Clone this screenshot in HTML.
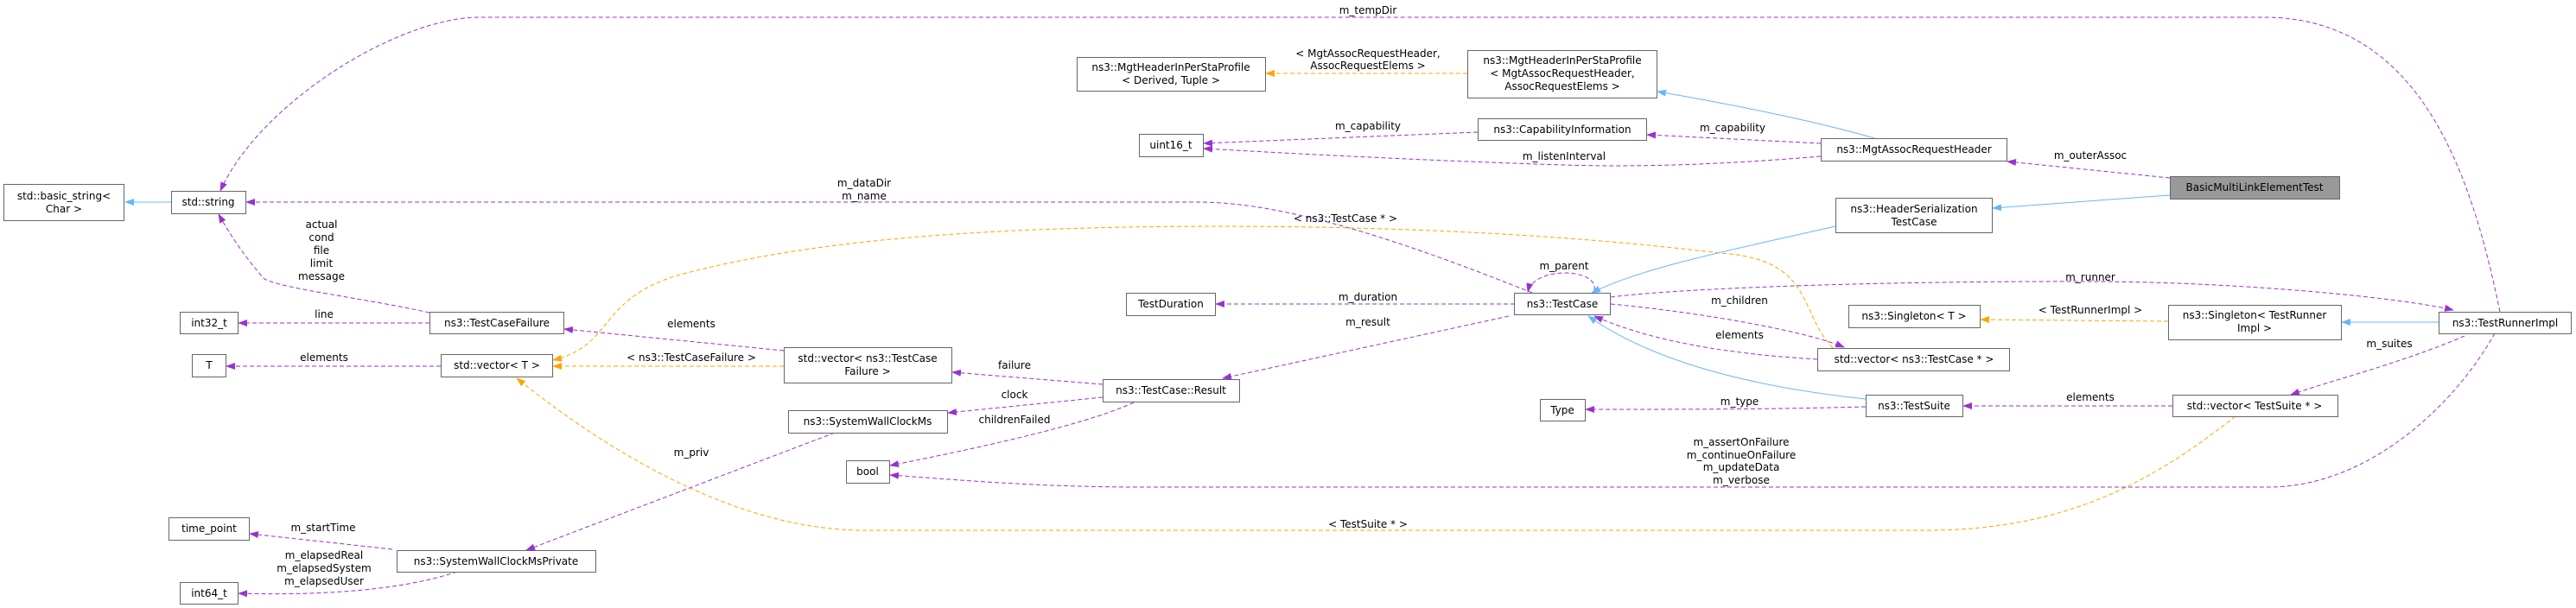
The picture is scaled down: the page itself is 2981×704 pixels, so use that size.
<!DOCTYPE html>
<html><head><meta charset="utf-8"><style>
html,body{margin:0;padding:0;background:#fff;}
svg{display:block;}
text{font-family:"DejaVu Sans","Liberation Sans",sans-serif;font-size:12px;fill:#000;text-anchor:middle;}
.b{fill:#fff;stroke:#666;stroke-width:1;}
.p{fill:none;stroke:#9a32cd;stroke-width:1;stroke-dasharray:5,3;}
.o{fill:none;stroke:#ffa500;stroke-width:1;stroke-dasharray:5,3;}
.u{fill:none;stroke:#63b8ff;stroke-width:1;}
</style></head><body>
<svg width="2981" height="704" viewBox="0 0 2981 704" xmlns="http://www.w3.org/2000/svg">
<defs>
<marker id="mp" markerWidth="11" markerHeight="8" refX="10" refY="4" orient="auto" markerUnits="userSpaceOnUse"><path d="M0,0 L11,4 L0,8 Z" fill="#9a32cd"/></marker>
<marker id="mo" markerWidth="11" markerHeight="8" refX="10" refY="4" orient="auto" markerUnits="userSpaceOnUse"><path d="M0,0 L11,4 L0,8 Z" fill="#ffa500"/></marker>
<marker id="mu" markerWidth="11" markerHeight="8" refX="10" refY="4" orient="auto" markerUnits="userSpaceOnUse"><path d="M0,0 L11,4 L0,8 Z" fill="#63b8ff"/></marker>
</defs>

<!-- edges -->
<path class="p" marker-end="url(#mp)" d="M2893,361 C2860,200 2800,20 2620,20 L555,20 C460,20 300,120 255,221"/>
<text x="1583" y="16">m_tempDir</text>
<path class="p" marker-end="url(#mp)" d="M1773,339 C1650,290 1500,235 1390,234 L285,234"/>
<text x="1000" y="216">m_dataDir</text><text x="1000" y="231">m_name</text>
<path class="p" marker-end="url(#mp)" d="M497,362 C420,345 330,335 306,323 C285,300 265,270 253,248"/>
<text x="372" y="264">actual</text><text x="372" y="279">cond</text><text x="372" y="294">file</text><text x="372" y="309">limit</text><text x="372" y="324">message</text>
<path class="p" marker-end="url(#mp)" d="M497,374 L276,374"/>
<text x="375" y="368">line</text>
<path class="p" marker-end="url(#mp)" d="M510,424 L262,424"/>
<text x="375" y="418">elements</text>
<path class="p" marker-end="url(#mp)" d="M907,406 L653,381"/>
<text x="800" y="379">elements</text>
<path class="o" marker-end="url(#mo)" d="M907,424 L640,424"/>
<text x="800" y="418">&lt; ns3::TestCaseFailure &gt;</text>
<path class="o" marker-end="url(#mo)" d="M2121,403 C2080,360 2100,300 1990,293 C1800,270 1600,262 1400,262 C1200,263 960,270 780,320 C690,350 710,400 640,417"/>
<text x="1557" y="257">&lt; ns3::TestCase * &gt;</text>
<path class="o" marker-end="url(#mo)" d="M2587,482 C2500,550 2400,614 2230,614 L1000,614 C850,614 700,520 598,438"/>
<text x="1583" y="611">&lt; TestSuite * &gt;</text>
<path class="p" marker-end="url(#mp)" d="M966,501 L609,637"/>
<text x="800" y="528">m_priv</text>
<path class="p" marker-end="url(#mp)" d="M454,636 L289,618"/>
<text x="374" y="615">m_startTime</text>
<path class="p" marker-end="url(#mp)" d="M529,662 C470,682 380,690 276,687"/>
<text x="375" y="647">m_elapsedReal</text><text x="375" y="662">m_elapsedSystem</text><text x="375" y="677">m_elapsedUser</text>
<path class="p" marker-end="url(#mp)" d="M1276,445 L1102,431"/>
<text x="1174" y="427">failure</text>
<path class="p" marker-end="url(#mp)" d="M1276,460 L1097,478"/>
<text x="1174" y="461">clock</text>
<path class="p" marker-end="url(#mp)" d="M1312,466 C1250,495 1100,525 1030,539"/>
<text x="1174" y="490">childrenFailed</text>
<path class="p" marker-end="url(#mp)" d="M2887,386 C2840,470 2740,564 2625,564 L1319,564 C1200,564 1100,555 1030,550"/>
<text x="2015" y="516">m_assertOnFailure</text><text x="2015" y="531">m_continueOnFailure</text><text x="2015" y="545">m_updateData</text><text x="2015" y="560">m_verbose</text>
<path class="p" marker-end="url(#mp)" d="M1753,352 L1407,352"/>
<text x="1583" y="348">m_duration</text>
<path class="p" marker-end="url(#mp)" d="M1746,366 L1415,438"/>
<text x="1583" y="377">m_result</text>
<path class="p" marker-end="url(#mp)" d="M1845,336 C1850,310 1775,308 1768,338"/>
<text x="1810" y="312">m_parent</text>
<path class="p" marker-end="url(#mp)" d="M1864,344 C1950,333 2200,325 2427,326 C2600,327 2780,345 2839,359"/>
<text x="2419" y="325">m_runner</text>
<path class="p" marker-end="url(#mp)" d="M1864,352 C1950,360 2080,380 2134,402"/>
<text x="2013" y="352">m_children</text>
<path class="p" marker-end="url(#mp)" d="M2103,416 C2000,410 1910,395 1845,366"/>
<text x="2013" y="392">elements</text>
<path class="u" marker-end="url(#mu)" d="M2159,462 C2000,445 1900,410 1838,366"/>
<path class="u" marker-end="url(#mu)" d="M2124,262 C2000,290 1900,310 1842,339"/>
<path class="u" marker-end="url(#mu)" d="M2511,226 L2306,241"/>
<path class="p" marker-end="url(#mp)" d="M2511,206 L2323,187"/>
<text x="2419" y="184">m_outerAssoc</text>
<path class="u" marker-end="url(#mu)" d="M2169,160 C2100,140 2000,120 1918,106"/>
<path class="o" marker-end="url(#mo)" d="M1698,85 L1465,85"/>
<text x="1583" y="66">&lt; MgtAssocRequestHeader,</text><text x="1583" y="80">AssocRequestElems &gt;</text>
<path class="p" marker-end="url(#mp)" d="M2107,166 L1906,156"/>
<text x="2005" y="152">m_capability</text>
<path class="p" marker-end="url(#mp)" d="M1710,153 L1393,166"/>
<text x="1583" y="150">m_capability</text>
<path class="p" marker-end="url(#mp)" d="M2107,181 C2000,190 1900,194 1810,191 C1650,186 1500,178 1393,172"/>
<text x="1810" y="185">m_listenInterval</text>
<path class="u" marker-end="url(#mu)" d="M2822,373 L2710,373"/>
<path class="o" marker-end="url(#mo)" d="M2509,372 L2292,370"/>
<text x="2419" y="363">&lt; TestRunnerImpl &gt;</text>
<path class="p" marker-end="url(#mp)" d="M2852,389 C2780,420 2700,440 2651,457"/>
<text x="2765" y="402">m_suites</text>
<path class="p" marker-end="url(#mp)" d="M2514,470 L2272,470"/>
<text x="2419" y="464">elements</text>
<path class="p" marker-end="url(#mp)" d="M2159,471 C2050,474 1950,474 1835,474"/>
<text x="2013" y="469">m_type</text>
<path class="u" marker-end="url(#mu)" d="M198,234 L145,234"/>

<!-- nodes -->
<rect class="b" x="4.5" y="213.5" width="139" height="42"/><text x="74" y="231">std::basic_string&lt;</text><text x="74" y="246">Char &gt;</text>
<rect class="b" x="198.5" y="221.5" width="86" height="26"/><text x="241" y="238">std::string</text>
<rect class="b" x="208.5" y="361.5" width="67" height="25"/><text x="242" y="378">int32_t</text>
<rect class="b" x="222.5" y="410.5" width="39" height="26"/><text x="242" y="427">T</text>
<rect class="b" x="497.5" y="361.5" width="155" height="25"/><text x="575" y="378">ns3::TestCaseFailure</text>
<rect class="b" x="510.5" y="410.5" width="129" height="26"/><text x="575" y="427">std::vector&lt; T &gt;</text>
<rect class="b" x="195.5" y="599.5" width="93" height="26"/><text x="242" y="616">time_point</text>
<rect class="b" x="459.5" y="637.5" width="230" height="25"/><text x="574" y="654">ns3::SystemWallClockMsPrivate</text>
<rect class="b" x="208.5" y="674.5" width="67" height="25"/><text x="242" y="691">int64_t</text>
<rect class="b" x="907.5" y="402.5" width="194" height="41"/><text x="1004" y="419">std::vector&lt; ns3::TestCase</text><text x="1004" y="434">Failure &gt;</text>
<rect class="b" x="912.5" y="475.5" width="184" height="26"/><text x="1004" y="492">ns3::SystemWallClockMs</text>
<rect class="b" x="979.5" y="533.5" width="50" height="26"/><text x="1004" y="550">bool</text>
<rect class="b" x="1246.5" y="66.5" width="218" height="39"/><text x="1355" y="82">ns3::MgtHeaderInPerStaProfile</text><text x="1355" y="97">&lt; Derived, Tuple &gt;</text>
<rect class="b" x="1698.5" y="58.5" width="219" height="55"/><text x="1808" y="74">ns3::MgtHeaderInPerStaProfile</text><text x="1808" y="89">&lt; MgtAssocRequestHeader,</text><text x="1808" y="104">AssocRequestElems &gt;</text>
<rect class="b" x="1318.5" y="155.5" width="74" height="26"/><text x="1355" y="172">uint16_t</text>
<rect class="b" x="1710.5" y="137.5" width="195" height="25"/><text x="1808" y="154">ns3::CapabilityInformation</text>
<rect class="b" x="1303.5" y="339.5" width="103" height="26"/><text x="1355" y="356">TestDuration</text>
<rect class="b" x="1752.5" y="339.5" width="111" height="25"/><text x="1808" y="356">ns3::TestCase</text>
<rect class="b" x="1276.5" y="439.5" width="158" height="26"/><text x="1355" y="456">ns3::TestCase::Result</text>
<rect class="b" x="1782.5" y="462.5" width="52" height="25"/><text x="1808" y="479">Type</text>
<rect class="b" x="2107.5" y="160.5" width="215" height="26"/><text x="2215" y="177">ns3::MgtAssocRequestHeader</text>
<rect x="2511.5" y="204.5" width="196" height="26" fill="#999" stroke="#666"/><text x="2609" y="221">BasicMultiLinkElementTest</text>
<rect class="b" x="2124.5" y="229.5" width="181" height="40"/><text x="2215" y="246">ns3::HeaderSerialization</text><text x="2215" y="261">TestCase</text>
<rect class="b" x="2139.5" y="353.5" width="152" height="26"/><text x="2215" y="370">ns3::Singleton&lt; T &gt;</text>
<rect class="b" x="2103.5" y="403.5" width="222" height="26"/><text x="2215" y="420">std::vector&lt; ns3::TestCase * &gt;</text>
<rect class="b" x="2509.5" y="353.5" width="200" height="40"/><text x="2609" y="369">ns3::Singleton&lt; TestRunner</text><text x="2609" y="384">Impl &gt;</text>
<rect class="b" x="2822.5" y="361.5" width="153" height="25"/><text x="2899" y="378">ns3::TestRunnerImpl</text>
<rect class="b" x="2159.5" y="457.5" width="112" height="25"/><text x="2215" y="474">ns3::TestSuite</text>
<rect class="b" x="2514.5" y="457.5" width="191" height="25"/><text x="2609" y="474">std::vector&lt; TestSuite * &gt;</text>
</svg>
</body></html>
